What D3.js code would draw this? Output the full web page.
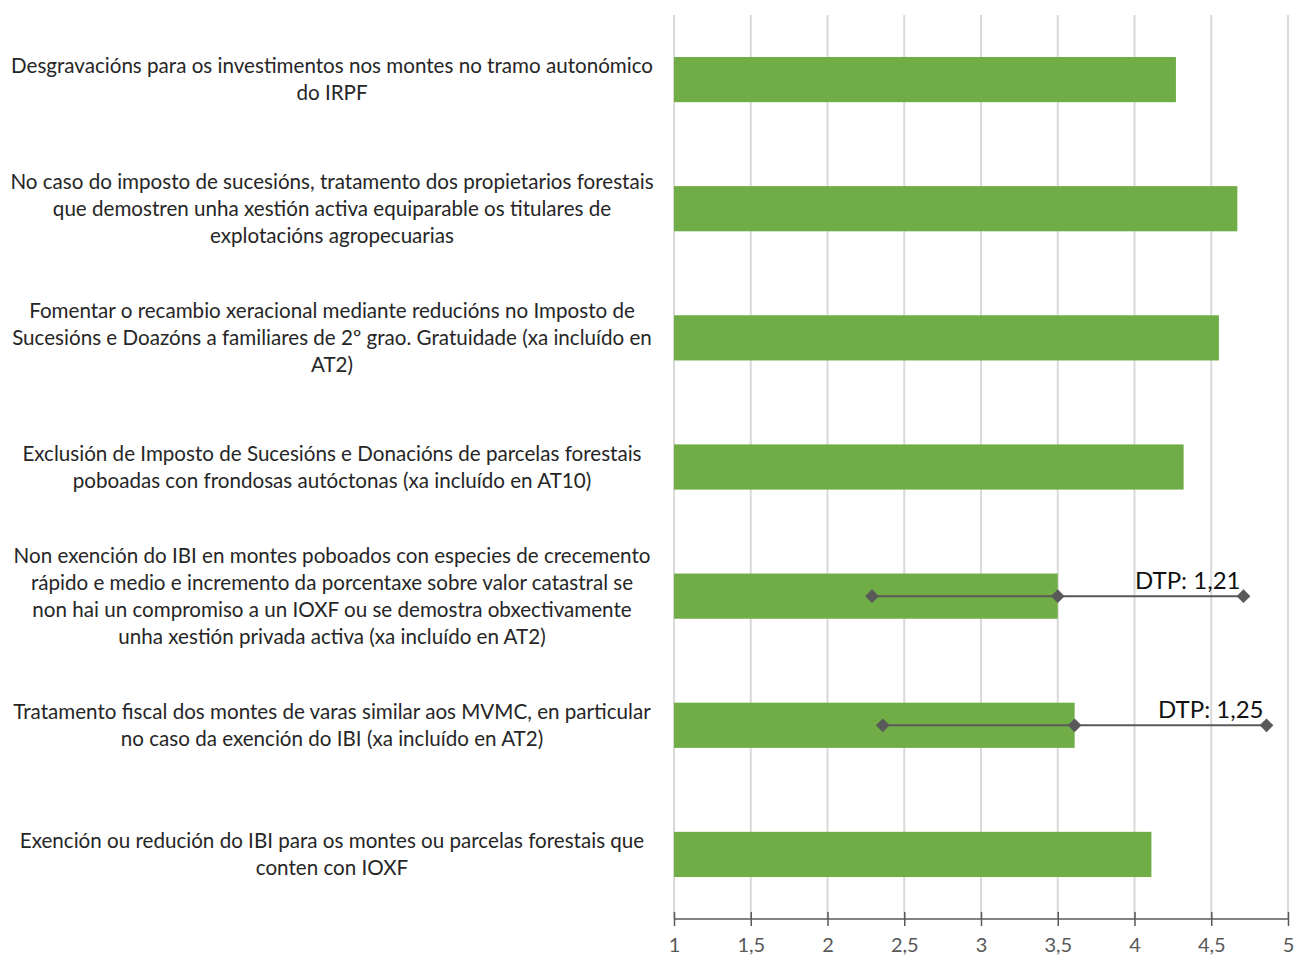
<!DOCTYPE html>
<html><head><meta charset="utf-8">
<script src="https://cdn.jsdelivr.net/npm/d3@7"></script>
<style>body{margin:0;background:#fff}svg{display:block}</style>
</head><body>
<svg id="c" width="1304" height="958"></svg>
<script>
const categories = [
  ["Desgravacións para os investimentos nos montes no tramo autonómico","do IRPF"],
  ["No caso do imposto de sucesións, tratamento dos propietarios forestais","que demostren unha xestión activa equiparable os titulares de","explotacións agropecuarias"],
  ["Fomentar o recambio xeracional mediante reducións no Imposto de","Sucesións e Doazóns a familiares de 2º grao. Gratuidade (xa incluído en","AT2)"],
  ["Exclusión de Imposto de Sucesións e Donacións de parcelas forestais","poboadas con frondosas autóctonas (xa incluído en AT10)"],
  ["Non exención do IBI en montes poboados con especies de crecemento","rápido e medio e incremento da porcentaxe sobre valor catastral se","non hai un compromiso a un IOXF ou se demostra obxectivamente","unha xestión privada activa (xa incluído en AT2)"],
  ["Tratamento fiscal dos montes de varas similar aos MVMC, en particular","no caso da exención do IBI (xa incluído en AT2)"],
  ["Exención ou redución do IBI para os montes ou parcelas forestais que","conten con IOXF"]
];
const values = [4.27, 4.67, 4.55, 4.32, 3.50, 3.61, 4.11];
const dtp = [null, null, null, null, 1.21, 1.25, null];
const dtpLabels = [null, null, null, null, "DTP: 1,21", "DTP: 1,25", null];
const tickValues = [1, 1.5, 2, 2.5, 3, 3.5, 4, 4.5, 5];
const tickLabels = ["1", "1,5", "2", "2,5", "3", "3,5", "4", "4,5", "5"];

const svg = d3.select("#c");
const font = "Lato, 'Open Sans', sans-serif";
const x = d3.scaleLinear().domain([1, 5]).range([674, 1288]);
const y = d3.scaleBand().domain(d3.range(categories.length)).range([15, 919]).paddingInner(0.65).paddingOuter(0.325);

// gridlines
svg.append("g").selectAll("line").data(tickValues).join("line")
  .attr("x1", d => x(d)).attr("x2", d => x(d)).attr("y1", 15).attr("y2", 919)
  .attr("stroke", "#d9d9d9").attr("stroke-width", 2);

// bars
svg.append("g").selectAll("rect").data(values).join("rect")
  .attr("x", x(1)).attr("y", (d, i) => y(i)).attr("width", d => x(d) - x(1)).attr("height", y.bandwidth())
  .attr("fill", "#70ad47");

// axis
const axis = d3.axisBottom(x).tickValues(tickValues).tickFormat((d, i) => tickLabels[i]).tickSize(7).tickPadding(12);
const ag = svg.append("g").attr("transform", "translate(0,919)").call(axis);
ag.select(".domain").attr("stroke", "#595959").attr("stroke-width", 1.5).attr("d", `M${x(1)},0H${x(5)}`);
ag.selectAll(".tick line").attr("stroke", "#595959").attr("stroke-width", 1.5).attr("y1", -7);
ag.selectAll(".tick text").attr("fill", "#595959").style("font-family", font).style("font-size", "20px");

// error bars
const eb = svg.append("g");
values.forEach((v, i) => {
  if (dtp[i] == null) return;
  const cy = y(i) + y.bandwidth() / 2;
  const lo = v - dtp[i], hi = v + dtp[i];
  eb.append("line").attr("x1", x(lo)).attr("x2", x(hi)).attr("y1", cy).attr("y2", cy)
    .attr("stroke", "#595959").attr("stroke-width", 2);
  [lo, v, hi].forEach(p => {
    eb.append("path").attr("d", d3.symbol(d3.symbolDiamond2, 120)())
      .attr("transform", `translate(${x(p)},${cy})`).attr("fill", "#595959");
  });
  eb.append("text").attr("x", x(hi) - 3).attr("y", cy - 7).attr("text-anchor", "end")
    .attr("fill", "#111").style("font-family", font).style("font-size", "24px").text(dtpLabels[i]);
});

// category labels
const lg = svg.append("g");
categories.forEach((lines, i) => {
  const cy = y(i) + y.bandwidth() / 2;
  const t = lg.append("text").attr("text-anchor", "middle").attr("fill", "#262626")
    .style("font-family", font).style("font-size", "20.6px");
  lines.forEach((ln, j) => {
    t.append("tspan").attr("x", 332).attr("y", cy + (j - (lines.length - 1) / 2) * 27).attr("dy", "0.35em").text(ln);
  });
});
</script>
</body></html>
